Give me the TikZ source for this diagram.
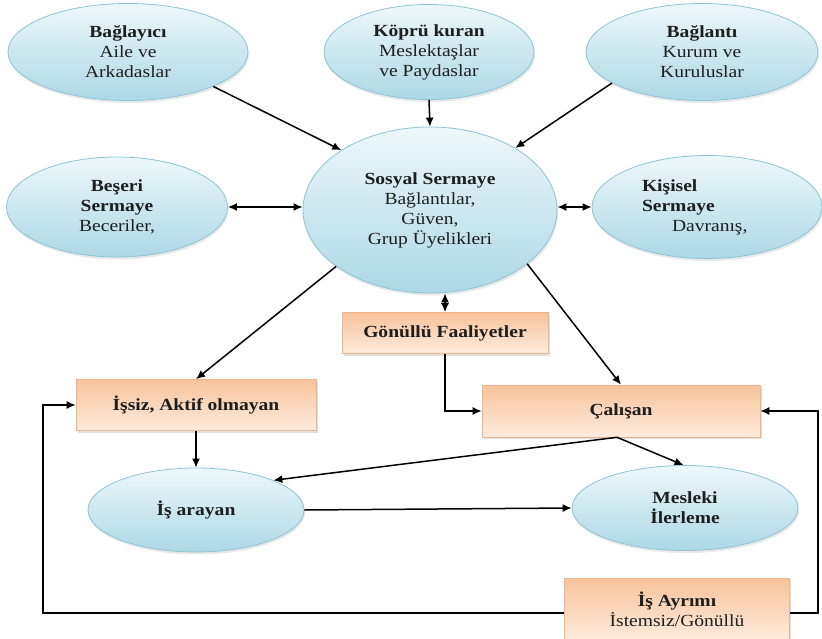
\documentclass[tikz,border=0pt]{standalone}
\usepackage{fontspec}
\setmainfont{Liberation Serif}[FakeStretch=1.15]
\usetikzlibrary{shapes.geometric,shadows,arrows.meta}
\definecolor{elltop}{HTML}{EEF7FA}
\definecolor{ellbot}{HTML}{ACD8E5}
\definecolor{elldraw}{HTML}{8DC4D5}
\definecolor{boxtop}{HTML}{F8C39A}
\definecolor{boxbot}{HTML}{FDEBDD}
\definecolor{boxdraw}{HTML}{EFB48A}
\definecolor{txt}{HTML}{1E1E1E}
\tikzset{
  ell/.style={ellipse, draw=elldraw, line width=0.8pt, top color=elltop, bottom color=ellbot,
    inner sep=0pt, align=center, text=txt, font=\fontsize{17}{20}\selectfont,
    drop shadow={opacity=0.18, shadow xshift=1pt, shadow yshift=-2.5pt}},
  boxn/.style={rectangle, draw=boxdraw, line width=0.6pt, top color=boxtop, bottom color=boxbot,
    inner sep=0pt, align=center, text=txt, font=\fontsize{17}{20}\selectfont,
    drop shadow={opacity=0.25, shadow xshift=1.5pt, shadow yshift=-2pt}},
  arr/.style={line width=1.5pt, -{Latex[length=9pt,width=8pt]}},
  darr/.style={line width=1.5pt, {Latex[length=9pt,width=8pt]}-{Latex[length=9pt,width=8pt]}},
  ln/.style={line width=1.5pt}
}
\begin{document}
\begin{tikzpicture}[x=1pt,y=-1pt]
\useasboundingbox (0,0) rectangle (822,639);
\fill[white] (0,0) rectangle (822,639);
% ellipses
\node[ell, minimum width=240pt, minimum height=97pt] (bag) at (128,52) {\textbf{Bağlayıcı}\\Aile ve\\Arkadaslar};
\node[ell, minimum width=210pt, minimum height=95pt] (kop) at (429,52) {\textbf{Köprü kuran}\\Meslektaşlar\\ve Paydaslar};
\node[ell, minimum width=232pt, minimum height=97pt] (bgl) at (702,52) {\textbf{Bağlantı}\\Kurum ve\\Kuruluslar};
\node[ell, minimum width=221pt, minimum height=100pt] (bes) at (117,207) {\textbf{Beşeri}\\\textbf{Sermaye}\\Beceriler,};
\node[ell, minimum width=254pt, minimum height=166pt] (sos) at (430,210) {\textbf{Sosyal Sermaye}\\Bağlantılar,\\Güven,\\Grup Üyelikleri};
\node[ell, minimum width=230pt, minimum height=103pt, text width=130pt, align=left] (kis) at (707,207) {\textbf{Kişisel}\\\textbf{Sermaye}\\\hspace*{30pt}Davranış,};
\node[ell, minimum width=216pt, minimum height=84pt] (ara) at (196,510) {\textbf{İş arayan}};
\node[ell, minimum width=226pt, minimum height=85pt] (mes) at (685,508) {\textbf{Mesleki}\\\textbf{İlerleme}};
% boxes
\node[boxn, minimum width=206pt, minimum height=41pt] (gon) at (445,333) {\textbf{Gönüllü Faaliyetler}};
\node[boxn, minimum width=240pt, minimum height=51pt] (iss) at (196,405) {\textbf{İşsiz, Aktif olmayan}};
\node[boxn, minimum width=278pt, minimum height=52pt] (cal) at (621,411) {\textbf{Çalışan}};
\node[boxn, minimum width=225pt, minimum height=62pt] (ayr) at (677,609) {\textbf{İş Ayrımı}\\İstemsiz/Gönüllü};
% coordinates
\coordinate (cb) at ([xshift=-4pt]cal.south);
\coordinate (lc) at (43,613);
\coordinate (rc) at (818,613);
% connectors
\draw[arr] (bag.-22) -- (sos.146);
\draw[arr] (kop.south) -- (sos.north);
\draw[arr] (bgl.-161) -- (sos.36);
\draw[darr] (bes.east) -- (sos.west |- bes.east);
\draw[darr] (sos.east |- kis.west) -- (kis.west);
\draw[arr] (sos.-149) -- (iss.north);
\draw[darr] (sos.south -| gon.north) -- (gon.north);
\draw[arr] (sos.-29) -- (cal.north);
\draw[arr] (gon.south) |- (cal.west);
\draw[arr] (iss.south) -- (ara.north);
\draw[arr] (cb) -- (ara.21);
\draw[arr] (cb) -- (mes.92);
\draw[arr] (ara.east) -- (mes.west);
\draw[arr] ([yshift=-4pt]ayr.west) -- (lc) |- (iss.west);
\draw[arr] ([yshift=-4pt]ayr.east) -- (rc) |- (cal.east);
\end{tikzpicture}
\end{document}
